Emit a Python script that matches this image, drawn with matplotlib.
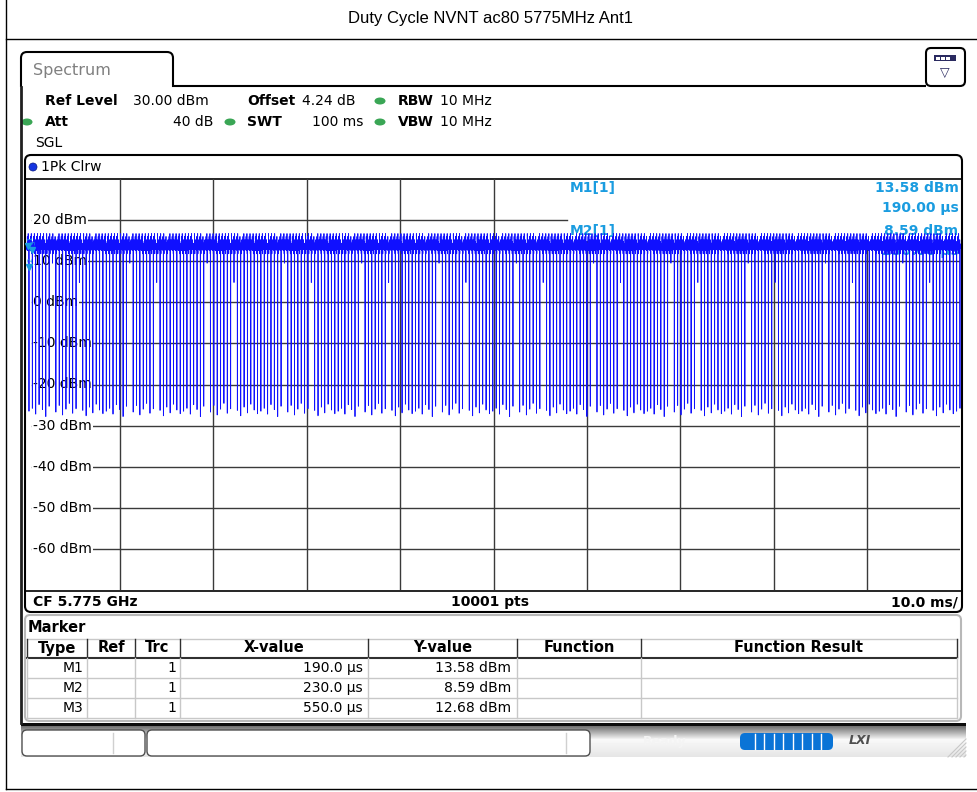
import numpy as np
import matplotlib
matplotlib.use("Agg")
import matplotlib.pyplot as plt
from matplotlib.patches import FancyBboxPatch, Rectangle, Ellipse, PathPatch
from matplotlib.path import Path
from matplotlib import font_manager

names = {f.name for f in font_manager.fontManager.ttflist}
narrow = "Liberation Sans Narrow" if "Liberation Sans Narrow" in names else "DejaVu Sans"
arial = "Liberation Sans" if "Liberation Sans" in names else "DejaVu Sans"
plt.rcParams["font.family"] = ["DejaVu Sans"]
plt.rcParams["path.simplify"] = False

# ---- values ----
title = "Duty Cycle NVNT ac80 5775MHz Ant1"
n_points = 10001
sweep_ms = 100.0
ref_level = 30
db_per_div = 10
level_labels = [20, 10, 0, -10, -20, -30, -40, -50, -60]

marker_names = ["M1", "M2", "M3"]
marker_x_us = [190.0, 230.0, 550.0]
marker_y_dbm = [13.58, 8.59, 12.68]

burst_period_us = 360
gap_offset_us = 240
gap_width_samples = 2
on_level_dbm = 13.6
top_ripple_db = [0.3, -0.5, 0.7, -0.9, 0.1, 0.5, -0.3, 2.4, -0.6, 0.4, -1.0, 0.0,
                 0.8, -0.2, -0.7, 0.4, 3.1, -0.4, 0.2, -1.8, 0.6, -0.5, 0.3, 1.2,
                 -0.8, 0.0, 0.5, -0.2, 1.6, -0.6, 0.2, -0.3, 0.6]
gap_floor_dbm = [-26.5, -25.8, -27.2, -24.9, -26.1, -27.8, -25.3, 9.5, -26.7, -25.1,
                 -27.4, -26.0, -24.6, -27.0, -25.9, 4.8, -26.3, -27.6, -25.5, -26.9,
                 -24.8, -26.2, -27.1]

table_cols = ["Type", "Ref", "Trc", "X-value", "Y-value", "Function", "Function Result"]
table_x = ["190.0 µs", "230.0 µs", "550.0 µs"]
table_y = ["13.58 dBm", "8.59 dBm", "12.68 dBm"]

# ---- trace ----
dt_us = sweep_ms * 1000 / (n_points - 1)
t_us = np.arange(n_points) * dt_us
idx = np.arange(n_points)
trace = on_level_dbm + np.array(top_ripple_db)[idx % len(top_ripple_db)]
step = int(round(burst_period_us / dt_us))
gaps = np.arange(int(gap_offset_us / dt_us), n_points, step)
floors = np.array(gap_floor_dbm)[np.arange(len(gaps)) % len(gap_floor_dbm)]
for w in range(gap_width_samples):
    ok = gaps + w < n_points
    trace[gaps[ok] + w] = floors[ok]
for mx, my in zip(marker_x_us, marker_y_dbm):
    trace[int(round(mx / dt_us))] = my
t_ms = t_us / 1000

fig = plt.figure(figsize=(9.77, 7.92), dpi=100)
bg = fig.add_axes([0, 0, 1, 1])
bg.set_xlim(0, 977)
bg.set_ylim(792, 0)
bg.axis("off")

# page frame and title
bg.plot([6, 6], [0, 789], color="black", lw=1)
bg.plot([6, 977], [789, 789], color="black", lw=1)
bg.plot([6, 977], [39, 39], color="black", lw=1)
bg.text(491, 19, title, family=arial, fontsize=12, ha="center", va="center")

# spectrum tab
tab = Path([(21, 87), (21, 58), (21, 52), (27, 52), (167, 52), (173, 52), (173, 58),
            (173, 86), (926, 86)],
           [Path.MOVETO, Path.LINETO, Path.CURVE3, Path.CURVE3, Path.LINETO,
            Path.CURVE3, Path.CURVE3, Path.LINETO, Path.LINETO])
bg.add_patch(PathPatch(tab, fill=False, lw=1.5, ec="black"))
bg.text(33, 70, "Spectrum", fontsize=11.5, color="#808080", va="center")
bg.add_patch(FancyBboxPatch((926, 48), 39, 38, boxstyle="round,pad=0,rounding_size=5",
                            fc="white", ec="black", lw=1.5))
bg.add_patch(Rectangle((934, 55), 22, 6, fc="#2a2a60", ec="none"))
for k in range(3):
    bg.add_patch(Rectangle((936 + k * 5, 56.5), 3.5, 3, fc="white", ec="none"))
bg.text(945, 73, "▽", fontsize=9, ha="center", va="center", color="#2a2a60")

# left edge of the screen
bg.plot([21, 21], [87, 723], color="#202020", lw=2)

# settings lines
green = "#3aa655"
bold_items = [(45, 101, "Ref Level"), (247, 101, "Offset"), (398, 101, "RBW"),
              (45, 122, "Att"), (247, 122, "SWT"), (398, 122, "VBW")]
for x, y, s in bold_items:
    bg.text(x, y, s, fontsize=10, weight="bold", va="center")
plain_items = [(133, 101, "30.00 dBm", "left"), (302, 101, "4.24 dB", "left"),
               (440, 101, "10 MHz", "left"), (213, 122, "40 dB", "right"),
               (363, 122, "100 ms", "right"), (440, 122, "10 MHz", "left"),
               (35, 143, "SGL", "left")]
for x, y, s, ha in plain_items:
    bg.text(x, y, s, fontsize=10, va="center", ha=ha)
for x, y in [(380, 101), (27, 122), (230, 122), (380, 122)]:
    bg.add_patch(Ellipse((x, y), 11, 7, fc=green, ec="none"))

# trace window frame
bg.add_patch(FancyBboxPatch((25, 155), 937, 457, boxstyle="round,pad=0,rounding_size=6",
                            fc="white", ec="black", lw=1.5))
bg.plot([25, 962], [178.5, 178.5], color="black", lw=1.2)
bg.plot([25, 962], [591, 591], color="black", lw=1.2)
bg.add_patch(Ellipse((33, 167), 8, 8, fc="#1535e0", ec="#0a1a80", lw=0.5))
bg.text(41, 167, "1Pk Clrw", fontsize=10, va="center")
bg.text(33, 602, "CF 5.775 GHz", fontsize=10, weight="bold", va="center")
bg.text(490, 602, "10001 pts", fontsize=10, weight="bold", va="center", ha="center")
bg.text(958, 602, "10.0 ms/", fontsize=10, weight="bold", va="center", ha="right")

# marker table
bg.add_patch(FancyBboxPatch((25, 615), 936, 106, boxstyle="round,pad=0,rounding_size=5",
                            fc="white", ec="#b8b8b8", lw=1.5))
bg.text(28, 627, "Marker", family=narrow, fontsize=10.5, weight="bold", va="center")
col_edges = [27, 87, 135, 180, 368, 517, 641, 957]
bg.plot([27, 957], [639, 639], color="#c8c8c8", lw=1)
bg.plot([27, 957], [658, 658], color="#303030", lw=1.5)
for yl in [678, 698, 718]:
    bg.plot([27, 957], [yl, yl], color="#c8c8c8", lw=1)
for xe in col_edges:
    bg.plot([xe, xe], [639, 657], color="#303030", lw=1)
    bg.plot([xe, xe], [658, 718], color="#c8c8c8", lw=1)
for i, name in enumerate(table_cols):
    xc = (col_edges[i] + col_edges[i + 1]) / 2
    bg.text(xc, 648, name, family=narrow, fontsize=10.5, weight="bold", ha="center", va="center")
for r in range(3):
    yr = 668 + r * 20
    bg.text(83, yr, marker_names[r], family=narrow, fontsize=10, ha="right", va="center")
    bg.text(176, yr, "1", family=narrow, fontsize=10, ha="right", va="center")
    bg.text(363, yr, table_x[r], family=narrow, fontsize=10, ha="right", va="center")
    bg.text(511, yr, table_y[r], family=narrow, fontsize=10, ha="right", va="center")

# status bar
grad = np.concatenate([np.full(3, 0.05), np.linspace(0.45, 0.97, 14), np.linspace(0.97, 0.9, 17)])
bg.imshow(grad[:, None], cmap="gray", vmin=0, vmax=1, aspect="auto",
          extent=(21, 966, 757, 723), zorder=0.5)
bg.add_patch(FancyBboxPatch((22, 730), 123, 26, boxstyle="round,pad=0,rounding_size=5",
                            fc="white", ec="#505050", lw=1))
bg.plot([113, 113], [733, 753], color="#d0d0d0", lw=1)
bg.add_patch(FancyBboxPatch((147, 730), 443, 26, boxstyle="round,pad=0,rounding_size=5",
                            fc="white", ec="#505050", lw=1))
bg.plot([566, 566], [733, 753], color="#d0d0d0", lw=1)
bg.text(665, 741, "Ready", fontsize=9, weight="bold", color="#f4f4f4", ha="center", va="center")
bg.add_patch(FancyBboxPatch((740, 733), 93, 17, boxstyle="round,pad=0,rounding_size=5",
                            fc="#0a74d6", ec="none"))
for k in range(1, 9):
    xs = 745 + k * 9.5
    bg.plot([xs, xs], [734, 749], color="white", lw=1)
bg.text(860, 741, "LXI", fontsize=9, weight="bold", style="italic", color="#505050",
        ha="center", va="center")
for k in range(5):
    bg.plot([948 + k * 4, 966], [757, 757 - (18 - k * 4)], color="#c8c8c8", lw=0.8)

# trace axes
ax = fig.add_axes([26.7 / 977, 1 - 590.1 / 792, 933.6 / 977, 411.2 / 792])
ax.set_xlim(0, sweep_ms)
ax.set_ylim(ref_level - 10 * db_per_div, ref_level)
ax.axis("off")
ax.patch.set_alpha(0)

grid_c = "#3a3a3a"
for k in range(1, 10):
    x = k * sweep_ms / 10
    top = ref_level if x < 58 else 15
    ax.plot([x, x], [ref_level - 10 * db_per_div, top], color=grid_c, lw=1, zorder=1)
for lv in level_labels:
    right = 57.9 if lv == 20 else sweep_ms
    ax.plot([0.6, right], [lv, lv], color=grid_c, lw=1, zorder=1)
    ax.text(0.65, lv, f"{lv} dBm", fontsize=10, va="center", ha="left", zorder=2,
            bbox=dict(fc="white", ec="none", pad=0.8))

cyan = "#1a9ce0"
ax.text(58.2, 27.8, "M1[1]", color=cyan, fontsize=10, weight="bold", va="center", zorder=2)
ax.text(99.8, 27.8, f"{marker_y_dbm[0]:.2f} dBm", color=cyan, fontsize=10, weight="bold",
        va="center", ha="right", zorder=2)
ax.text(99.8, 22.9, f"{marker_x_us[0]:.2f} µs", color=cyan, fontsize=10, weight="bold",
        va="center", ha="right", zorder=2)
ax.text(58.2, 17.3, "M2[1]", color=cyan, fontsize=10, weight="bold", va="center", zorder=2)
ax.text(99.8, 17.3, f"{marker_y_dbm[1]:.2f} dBm", color=cyan, fontsize=10, weight="bold",
        va="center", ha="right", zorder=2)
ax.text(99.8, 12.5, f"{marker_x_us[1]:.2f} µs", color=cyan, fontsize=10, weight="bold",
        va="center", ha="right", zorder=2)

ax.plot(t_ms, trace, color="#1010ff", lw=0.6, zorder=3, clip_on=False)

mx_ms = np.array(marker_x_us) / 1000
ax.plot(mx_ms, marker_y_dbm, ls="none", marker="v", ms=5, color=cyan, zorder=4, clip_on=False)
for k, (xm, ym) in enumerate(zip(mx_ms, marker_y_dbm)):
    ax.text(xm + 0.2, ym + 1.2, str(k + 1), color=cyan, fontsize=5,
            rotation=90, ha="center", va="bottom", zorder=4)

fig.savefig("out.png", dpi=100, facecolor="white")
